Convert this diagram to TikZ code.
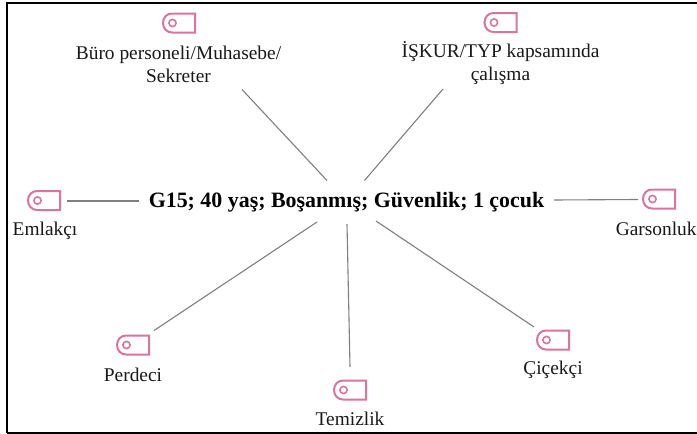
\documentclass[tikz,border=0pt]{standalone}
\usepackage{fontspec}
\setmainfont{Liberation Serif}
\definecolor{tagpink}{HTML}{D9749F}
\definecolor{linkgray}{HTML}{7F7F7F}
\tikzset{
  x=1pt,y=-1pt,
  lbl/.style={font=\fontsize{19.4}{23}\selectfont,text=black!90,align=center,inner sep=0pt},
  title/.style={font=\fontsize{21.9}{24}\selectfont\bfseries,text=black,inner sep=0pt},
  link/.style={draw=linkgray,line width=1.1pt},
  tagline/.style={draw=tagpink,line width=2pt},
  frame/.style={draw=black,line width=2pt}
}
\newcommand{\tagicon}[3]{%
  \coordinate (#1) at (#2,#3);
  \draw[tagline,shift={(#1)}] (16,-9.5) -- (-7,-9.5) .. controls (-12,-9.5) and (-16,-5.5) .. (-16,0) .. controls (-16,5.5) and (-12,9.5) .. (-7,9.5) -- (16,9.5) -- cycle;
  \draw[tagline,shift={(#1)},line width=1.6pt] (-6.5,0) circle[radius=3.6pt];
}
\begin{document}
\begin{tikzpicture}
\useasboundingbox (0,0) rectangle (697,434);
\path[fill=white] (0,0) rectangle (697,434);
\draw[frame] (7,433) -- (7,3) -- (697,3);
\draw[frame] (7,432.5) -- (697,432.5);

\node[title] (main) at (346.5,202) {G15; 40 yaş; Boşanmış; Güvenlik; 1 çocuk};

\node[lbl] (buro) at (178.5,64) {Büro personeli/Muhasebe/\\Sekreter};
\node[lbl] (iskur) at (500.5,63.5) {İŞKUR/TYP kapsamında\\çalışma};
\node[lbl] (emlak) at (45,231) {Emlakçı};
\node[lbl,anchor=east] (garson) at (696.8,229) {Garsonluk};
\node[lbl] (perde) at (133,375) {Perdeci};
\node[lbl] (temiz) at (350,419) {Temizlik};
\node[lbl] (cicek) at (553,369.5) {Çiçekçi};

\tagicon{tbuco}{179}{23}
\tagicon{tisk}{500.5}{22.5}
\tagicon{temlak}{44}{200.5}
\tagicon{tgar}{659}{199}
\tagicon{tper}{133}{345}
\tagicon{ttem}{350}{390}
\tagicon{tcic}{553}{340}

\coordinate (a1) at (242,89.5);
\coordinate (a2) at (327,180.5);
\coordinate (b1) at (443,89);
\coordinate (b2) at (364.5,180.5);
\coordinate (c1) at (67,201);
\coordinate (c2) at (139,201);
\coordinate (d1) at (554,200);
\coordinate (d2) at (638,199.5);
\coordinate (e1) at (154,330.5);
\coordinate (e2) at (317,222);
\coordinate (f1) at (350,367);
\coordinate (f2) at (347,224);
\coordinate (g1) at (534,327);
\coordinate (g2) at (376,221);
\draw[link] (a1) -- (a2);
\draw[link] (b1) -- (b2);
\draw[link] (c1) -- (c2);
\draw[link] (d1) -- (d2);
\draw[link] (e1) -- (e2);
\draw[link] (f1) -- (f2);
\draw[link] (g1) -- (g2);
\end{tikzpicture}
\end{document}
